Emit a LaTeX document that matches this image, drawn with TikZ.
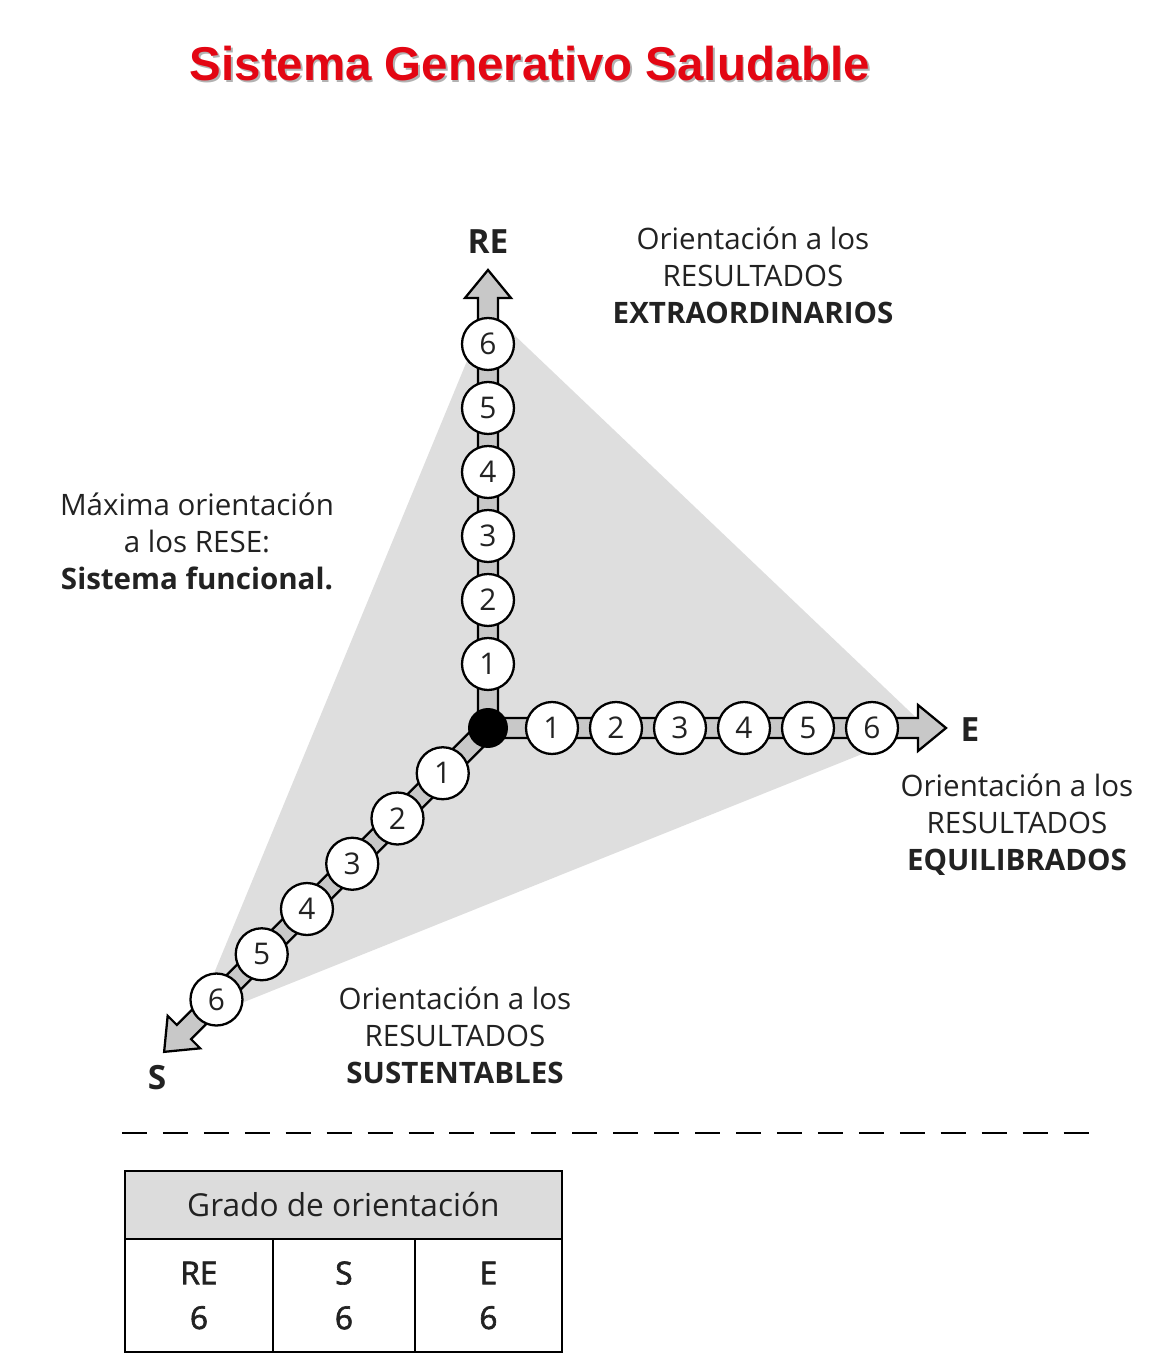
\documentclass[tikz,border=0pt]{standalone}
\usepackage{fontspec}
\setmainfont{Open Sans}
\newfontfamily\titlefont{Liberation Sans}
\newfontfamily\cellfont{Open Sans}[FakeBold=2]
\usepackage{xcolor}
\usetikzlibrary{positioning}

\definecolor{titlered}{HTML}{E30613}
\definecolor{ink}{HTML}{222222}
\definecolor{trigray}{HTML}{DEDEDE}
\definecolor{shaftgray}{HTML}{C8C8C8}
\definecolor{headgray}{HTML}{DCDCDC}

\begin{document}
\begin{tikzpicture}[
    x=0.02cm, y=0.02cm,
    num/.style={circle, draw, fill=white, line width=1.3pt, minimum size=1.04cm, inner sep=0pt, text=ink, font=\fontsize{17}{19}\selectfont},
    hub/.style={circle, fill=black, minimum size=0.8cm, inner sep=0pt},
    axisarrow/.style={draw, fill=shaftgray, line width=1.3pt, line join=miter},
    axislabel/.style={text=ink, font=\fontsize{19}{22}\selectfont\bfseries},
    note/.style={align=center, text=ink, font=\fontsize{16.8}{21}\selectfont},
    head/.style={rectangle, draw, fill=headgray, line width=1.3pt, outer sep=0pt, minimum width=8.74cm, minimum height=1.36cm, text=ink, font=\fontsize{18}{21}\selectfont},
    cell/.style={rectangle, draw, line width=1.3pt, outer sep=0pt, minimum height=2.26cm, align=center, text=ink, font=\cellfont\fontsize{18}{25.5}\selectfont},
    titletext/.style={font=\titlefont\fontsize{27}{32}\selectfont\bfseries}
]
\useasboundingbox (-488,-630) rectangle (681,728);

% Title
\node[titletext, text=black!30] at (43.5,662.5) {Sistema Generativo Saludable};
\node[titletext, text=titlered] (title) at (42,664) {Sistema Generativo Saludable};

% Shaded triangle
\coordinate (vre) at (90:418);
\coordinate (ve) at (0:439);
\coordinate (vs) at (225:416);
\fill[trigray] (vre) -- (ve) -- (vs) -- cycle;

% Axes
\foreach \ang/\ax in {90/re, 0/e, 225/s}{
  \draw[axisarrow, rotate=\ang] (0,10) -- (430,10) -- (430,23) -- (458,0) -- (430,-23) -- (430,-10) -- (0,-10) -- cycle;
  \coordinate (\ax tip) at (\ang:458);
  \foreach \k in {1,...,6}
    \node[num] (\ax\k) at (\ang:{64*\k}) {\k};
}
\node[hub] (o) at (0,0) {};

% Axis names
\node[axislabel] (re) at (0,486) {RE};
\node[axislabel] (e) at (482,-2) {E};
\node[axislabel] (s) at (-331,-350) {S};

% Notes
\node[note] (extra) at (265,453) {Orientación a los\\RESULTADOS\\\textbf{EXTRAORDINARIOS}};
\node[note] (maxima) at (-291,187) {Máxima orientación\\a los RESE:\\\textbf{Sistema funcional.}};
\node[note] (equil) at (529,-97) {Orientación a los\\RESULTADOS\\\textbf{EQUILIBRADOS}};
\node[note] (sust) at (-33,-307) {Orientación a los\\RESULTADOS\\\textbf{SUSTENTABLES}};

% Separator
\draw[line width=1.1pt, dash pattern=on 14.2pt off 9.1pt] (-366,-405) -- (604,-405);

% Table
\node[head, anchor=north west] (grado) at (-363,-443) {Grado de orientación};
\node[cell, minimum width=2.96cm, anchor=north west] (cre) at (grado.south west) {RE\\6};
\node[cell, minimum width=2.84cm, right=0pt of cre] (cs) {S\\6};
\node[cell, minimum width=2.94cm, right=0pt of cs] (ce) {E\\6};

\end{tikzpicture}
\end{document}
